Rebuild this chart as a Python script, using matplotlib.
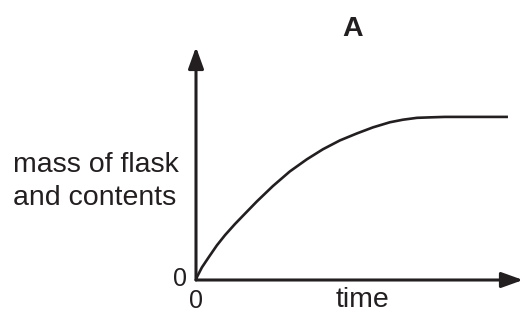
import matplotlib
matplotlib.use("Agg")
import matplotlib.pyplot as plt

# curve (arbitrary units, origin at 0,0)
time = [0, 0.03, 0.18, 0.40, 0.64, 0.89, 1.19, 1.50, 1.86, 2.35, 2.87,
        3.39, 3.88, 4.40, 4.92, 5.41, 5.93, 6.33, 6.76, 7.16, 7.61, 9.54]
mass = [0, 0.13, 0.54, 1.00, 1.49, 1.93, 2.40, 2.85, 3.37, 4.03, 4.66,
        5.18, 5.61, 5.99, 6.29, 6.55, 6.77, 6.88, 6.96, 6.98, 7.0, 7.0]

title = "A"
ylabel_lines = ["mass of flask", "and contents"]
xlabel = "time"
ink = "#231f20"

plt.rcParams['font.family'] = ['Liberation Sans', 'DejaVu Sans']

fig = plt.figure(figsize=(5.23, 3.16), dpi=100)
W, H = 523, 316
ax = fig.add_axes([196 / W, (H - 280) / H, (523 - 196) / W, (280 - 47) / H])
ax.set_xlim(0, 10)
ax.set_ylim(0, 10)
for s in ax.spines.values():
    s.set_visible(False)
ax.set_xticks([])
ax.set_yticks([])

ax.plot(time, mass, color=ink, lw=1.9, solid_capstyle='butt',
        solid_joinstyle='round', clip_on=False)

arrow = dict(arrowstyle='-|>,head_length=1.0,head_width=0.36', lw=2.2,
             color=ink, mutation_scale=13, shrinkA=0, shrinkB=0)
ax.annotate('', xy=(1, 0), xytext=(0, 0), xycoords='axes fraction',
            arrowprops=arrow)
ax.annotate('', xy=(0, 1), xytext=(0, 0), xycoords='axes fraction',
            arrowprops=arrow)

fs = 20.5
fig.text(353 / W, 1 - 36 / H, title, fontsize=fs, fontweight='bold',
         ha='center', va='baseline', color=ink)
for i, line in enumerate(ylabel_lines):
    fig.text(13 / W, 1 - (172 + 33 * i) / H, line, fontsize=fs,
             ha='left', va='baseline', color=ink)
fig.text(180 / W, 1 - 279 / H, "0", fontsize=18, ha='center', va='center',
         color=ink)
fig.text(196 / W, 1 - 301 / H, "0", fontsize=18, ha='center', va='center',
         color=ink)
fig.text(362 / W, 1 - 300 / H, xlabel, fontsize=fs, ha='center', va='center',
         color=ink)

fig.savefig("out.png", dpi=100)
